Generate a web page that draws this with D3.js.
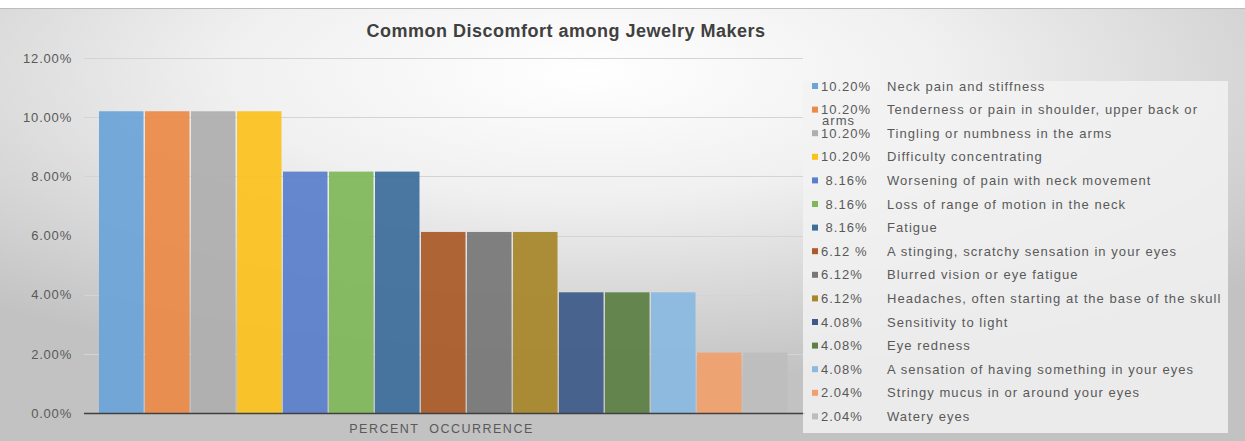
<!DOCTYPE html>
<html>
<head>
<meta charset="utf-8">
<script src="https://cdn.jsdelivr.net/npm/d3@7"></script>
<style>
  body { margin: 0; background: #fff; }
  svg { display: block; font-family: "Liberation Sans", Arial, sans-serif; }
</style>
</head>
<body>
<svg id="chart" width="1245" height="441"></svg>
<script>
var category = "PERCENT  OCCURRENCE";
var symptoms = [
  "Neck pain and stiffness",
  "Tenderness or pain in shoulder, upper back or|arms",
  "Tingling or numbness in the arms",
  "Difficulty concentrating",
  "Worsening of pain with neck movement",
  "Loss of range of motion in the neck",
  "Fatigue",
  "A stinging, scratchy sensation in your eyes",
  "Blurred vision or eye fatigue",
  "Headaches, often starting at the base of the skull",
  "Sensitivity to light",
  "Eye redness",
  "A sensation of having something in your eyes",
  "Stringy mucus in or around your eyes",
  "Watery eyes"
];
var values = [10.20, 10.20, 10.20, 10.20, 8.16, 8.16, 8.16, 6.12, 6.12, 6.12, 4.08, 4.08, 4.08, 2.04, 2.04];
var valueLabels = ["10.20%", "10.20%", "10.20%", "10.20%", " 8.16%", " 8.16%", " 8.16%", "6.12 %", "6.12%", "6.12%", "4.08%", "4.08%", "4.08%", "2.04%", "2.04%"];
var yTicks = [0, 2, 4, 6, 8, 10, 12];
var colors = ["#6ca4d8", "#ec8a48", "#aeaeae", "#fbc21e", "#5a7fcb", "#7fb85a", "#3c6e9c",
              "#ab5a28", "#777777", "#a8872a", "#3d5a88", "#5d7f45", "#8ab9e2", "#f1a06c", "#bdbdbd"];

var svg = d3.select("#chart");
var W = 1245, H = 441;

// background gradient like the office chart area
var defs = svg.append("defs");
var grad = defs.append("radialGradient").attr("id", "bg")
    .attr("cx", "47%").attr("cy", "15%").attr("r", "72%");
grad.append("stop").attr("offset", "0%").attr("stop-color", "#ffffff");
grad.append("stop").attr("offset", "40%").attr("stop-color", "#f0f0f0");
grad.append("stop").attr("offset", "100%").attr("stop-color", "#c2c2c2");

svg.append("rect").attr("x", 0).attr("y", 8).attr("width", W).attr("height", H - 8)
    .attr("fill", "url(#bg)");
svg.append("line").attr("x1", 0).attr("x2", W).attr("y1", 8.5).attr("y2", 8.5)
    .attr("stroke", "#bdbdbd");

svg.append("text")
    .attr("x", 566).attr("y", 37)
    .attr("text-anchor", "middle")
    .attr("font-size", 18).attr("font-weight", "bold")
    .attr("letter-spacing", 0.5)
    .attr("fill", "#404040")
    .text("Common Discomfort among Jewelry Makers");

var margin = {left: 84, top: 58, right: 442, bottom: 28};
var width = W - margin.left - margin.right;
var height = H - margin.top - margin.bottom;

var g = svg.append("g").attr("transform", "translate(" + margin.left + "," + margin.top + ")");

var y = d3.scaleLinear().domain([0, 12]).range([height, 0]);
var x0 = d3.scaleBand().domain([category]).range([0, width]).paddingOuter(0.021);
var x1 = d3.scaleBand().domain(d3.range(values.length)).range([0, x0.bandwidth()]);

// gridlines
g.append("g").selectAll("line").data(yTicks.filter(function(d) { return d > 0; }))
  .enter().append("line")
    .attr("x1", 0).attr("x2", width)
    .attr("y1", function(d) { return Math.round(y(d)) + 0.5; })
    .attr("y2", function(d) { return Math.round(y(d)) + 0.5; })
    .attr("stroke", "#d4d4d4");

var yAxis = d3.axisLeft(y).tickValues(yTicks).tickSize(0).tickPadding(12)
    .tickFormat(function(d) { return d.toFixed(2) + "%"; });
var ya = g.append("g").call(yAxis);
ya.select(".domain").remove();
ya.selectAll("text").attr("font-size", 13).attr("fill", "#595959")
    .attr("letter-spacing", 0.8)
    .attr("font-family", "Liberation Sans, Arial, sans-serif");

g.append("g").selectAll("rect").data(values)
  .enter().append("rect")
    .attr("x", function(d, i) { return x0(category) + x1(i) + 0.5; })
    .attr("y", function(d) { return y(d); })
    .attr("width", x1.bandwidth() - 1.5)
    .attr("height", function(d) { return height - y(d); })
    .attr("fill", function(d, i) { return colors[i]; })
    .attr("fill-opacity", 0.93);

// category axis
g.append("line").attr("x1", 0).attr("x2", width + 2)
    .attr("y1", height + 0.5).attr("y2", height + 0.5)
    .attr("stroke", "#404040").attr("stroke-width", 1.6);
g.append("text")
    .attr("x", x0(category) + x0.bandwidth() / 2 - 2).attr("y", height + 20)
    .attr("text-anchor", "middle").attr("font-size", 12.5).attr("fill", "#595959")
    .attr("letter-spacing", 1.5)
    .style("white-space", "pre")
    .text(category);

// legend
var lg = svg.append("g");
lg.append("rect").attr("x", 803).attr("y", 81).attr("width", 425).attr("height", 352)
    .attr("fill", "#f2f2f2").attr("fill-opacity", 0.85);

var item = lg.selectAll("g.item").data(symptoms)
  .enter().append("g").attr("class", "item")
    .attr("transform", function(d, i) { return "translate(0," + (86 + i * 23.6) + ")"; });
item.append("rect").attr("x", 812).attr("y", -3).attr("width", 6).attr("height", 6)
    .attr("fill", function(d, i) { return colors[i]; });
item.append("text").attr("x", 821).attr("y", 4.5)
    .attr("font-size", 13).attr("fill", "#595959")
    .attr("letter-spacing", 1)
    .style("white-space", "pre")
    .text(function(d, i) { return valueLabels[i]; });
var lt = item.append("text").attr("x", 887).attr("y", 4.5)
    .attr("font-size", 13).attr("fill", "#595959")
    .attr("letter-spacing", 1.05);
lt.each(function(d) {
  var parts = d.split("|");
  d3.select(this).append("tspan").text(parts[0]);
  if (parts[1]) {
    d3.select(this).append("tspan").attr("x", 822).attr("dy", 11).text(parts[1]);
  }
});
</script>
</body>
</html>
